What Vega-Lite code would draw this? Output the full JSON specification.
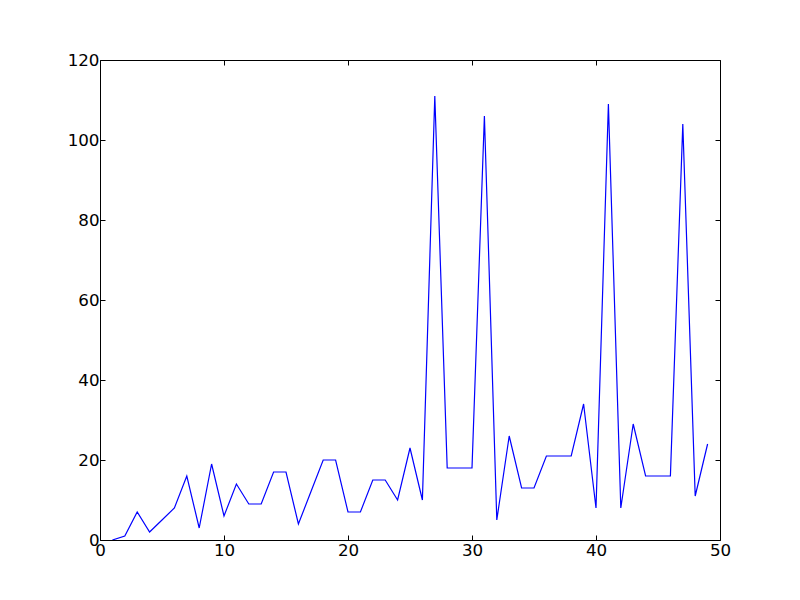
{
  "$schema": "https://vega.github.io/schema/vega-lite/v6.json",
  "width": 620,
  "height": 480,
  "autosize": "none",
  "padding": {"left": 100, "top": 60, "right": 80, "bottom": 60},
  "background": "white",
  "config": {
    "view": {"stroke": "black", "strokeWidth": 1},
    "axis": {
      "grid": false,
      "domain": false,
      "tickColor": "black",
      "tickSize": -5,
      "labelFlush": false,
      "labelOverlap": false,
      "labelFont": "DejaVu Sans",
      "labelFontSize": 16.7,
      "labelColor": "black",
      "title": null
    }
  },
  "data": {
    "values": [
      {"x": 1, "y": 0}, {"x": 2, "y": 1}, {"x": 3, "y": 7}, {"x": 4, "y": 2}, {"x": 5, "y": 5},
      {"x": 6, "y": 8}, {"x": 7, "y": 16}, {"x": 8, "y": 3}, {"x": 9, "y": 19}, {"x": 10, "y": 6},
      {"x": 11, "y": 14}, {"x": 12, "y": 9}, {"x": 13, "y": 9}, {"x": 14, "y": 17}, {"x": 15, "y": 17},
      {"x": 16, "y": 4}, {"x": 17, "y": 12}, {"x": 18, "y": 20}, {"x": 19, "y": 20}, {"x": 20, "y": 7},
      {"x": 21, "y": 7}, {"x": 22, "y": 15}, {"x": 23, "y": 15}, {"x": 24, "y": 10}, {"x": 25, "y": 23},
      {"x": 26, "y": 10}, {"x": 27, "y": 111}, {"x": 28, "y": 18}, {"x": 29, "y": 18}, {"x": 30, "y": 18},
      {"x": 31, "y": 106}, {"x": 32, "y": 5}, {"x": 33, "y": 26}, {"x": 34, "y": 13}, {"x": 35, "y": 13},
      {"x": 36, "y": 21}, {"x": 37, "y": 21}, {"x": 38, "y": 21}, {"x": 39, "y": 34}, {"x": 40, "y": 8},
      {"x": 41, "y": 109}, {"x": 42, "y": 8}, {"x": 43, "y": 29}, {"x": 44, "y": 16}, {"x": 45, "y": 16},
      {"x": 46, "y": 16}, {"x": 47, "y": 104}, {"x": 48, "y": 11}, {"x": 49, "y": 24}
    ]
  },
  "layer": [
    {
      "mark": {"type": "line", "color": "#0000ff", "strokeWidth": 1.2, "clip": true},
      "encoding": {
        "x": {"field": "x", "type": "quantitative", "scale": {"domain": [0, 50], "nice": false, "zero": false},
              "axis": {"orient": "bottom", "values": [0, 10, 20, 30, 40, 50], "labelPadding": 7}},
        "y": {"field": "y", "type": "quantitative", "scale": {"domain": [0, 120], "nice": false},
              "axis": {"orient": "left", "values": [0, 20, 40, 60, 80, 100, 120], "labelPadding": 6}}
      }
    },
    {
      "mark": {"type": "line", "opacity": 0},
      "encoding": {
        "x": {"field": "x", "type": "quantitative", "scale": {"domain": [0, 50], "nice": false, "zero": false},
              "axis": {"orient": "top", "values": [0, 10, 20, 30, 40, 50], "labels": false}},
        "y": {"field": "y", "type": "quantitative", "scale": {"domain": [0, 120], "nice": false},
              "axis": {"orient": "right", "values": [0, 20, 40, 60, 80, 100, 120], "labels": false}}
      }
    }
  ],
  "resolve": {"axis": {"x": "independent", "y": "independent"}}
}
